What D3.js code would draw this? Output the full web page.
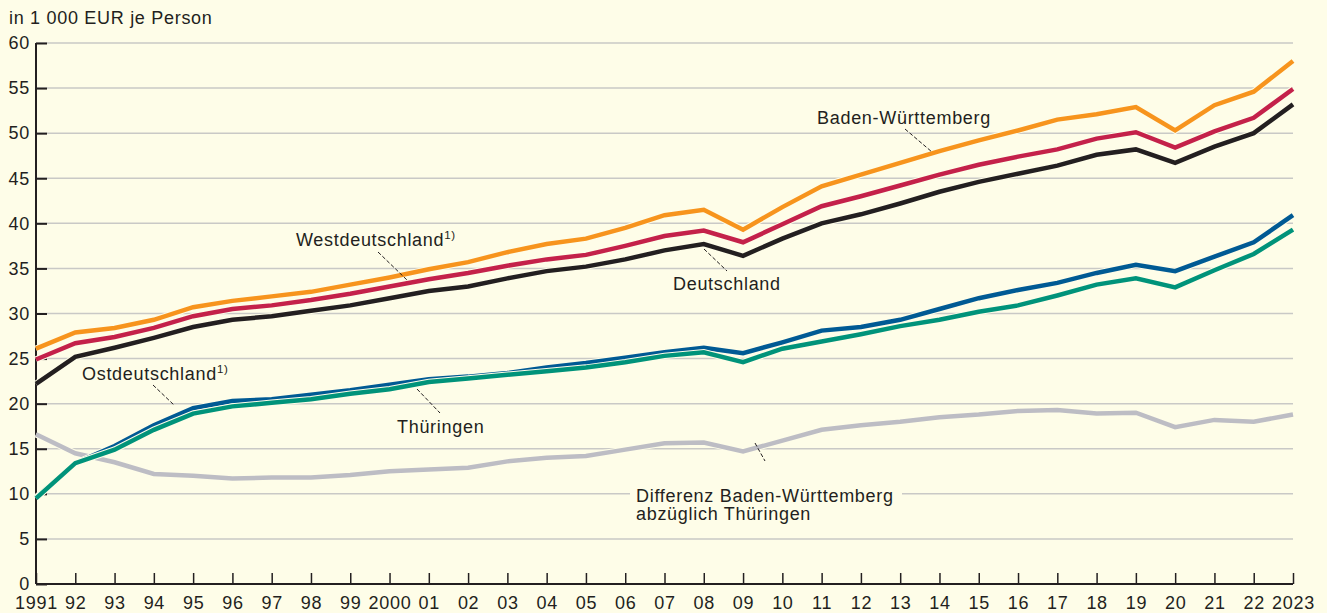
<!DOCTYPE html>
<html>
<head>
<meta charset="utf-8">
<script src="https://cdn.jsdelivr.net/npm/d3@7"></script>
<style>
  body { margin: 0; background: #fefde8; }
  svg { display: block; font-family: "Liberation Sans", Arial, sans-serif; }
  svg text { letter-spacing: 0.7px; }
</style>
</head>
<body>
<svg width="1327" height="613"></svg>
<script>
// Arbeitnehmerentgelt je Person, in 1 000 EUR

var years = d3.range(1991, 2024);
var yearLabels = ["1991","92","93","94","95","96","97","98","99","2000","01","02","03","04","05","06","07","08","09","10","11","12","13","14","15","16","17","18","19","20","21","22","2023"];
var yTicks = [0, 5, 10, 15, 20, 25, 30, 35, 40, 45, 50, 55, 60];

var badenWuerttemberg = [26.1,27.9,28.4,29.3,30.7,31.4,31.9,32.4,33.2,34.0,34.9,35.7,36.8,37.7,38.3,39.5,40.9,41.5,39.3,41.8,44.1,45.4,46.7,48.0,49.2,50.3,51.5,52.1,52.9,50.3,53.1,54.6,58.0];
var westdeutschland   = [24.9,26.7,27.4,28.4,29.7,30.5,30.9,31.5,32.2,33.0,33.8,34.5,35.3,36.0,36.5,37.5,38.6,39.2,37.9,39.9,41.9,43.0,44.2,45.4,46.5,47.4,48.2,49.4,50.1,48.4,50.2,51.7,54.9];
var deutschland       = [22.2,25.2,26.2,27.3,28.5,29.3,29.7,30.3,30.9,31.7,32.5,33.0,33.9,34.7,35.2,36.0,37.0,37.7,36.4,38.3,40.0,41.0,42.2,43.5,44.6,45.5,46.4,47.6,48.2,46.7,48.5,50.0,53.2];
var ostdeutschland    = [9.6,13.4,15.3,17.6,19.5,20.3,20.5,21.0,21.5,22.1,22.7,23.0,23.4,24.0,24.5,25.1,25.7,26.2,25.6,26.8,28.1,28.5,29.3,30.5,31.7,32.6,33.4,34.5,35.4,34.7,36.3,37.9,40.9];
var thueringen        = [9.5,13.4,14.9,17.1,18.9,19.7,20.1,20.5,21.1,21.6,22.4,22.8,23.2,23.6,24.0,24.6,25.3,25.7,24.6,26.1,26.9,27.7,28.6,29.3,30.2,30.9,32.0,33.2,33.9,32.9,34.8,36.6,39.3];
var differenz         = [16.6,14.5,13.5,12.2,12.0,11.7,11.8,11.8,12.1,12.5,12.7,12.9,13.6,14.0,14.2,14.9,15.6,15.7,14.7,15.9,17.1,17.6,18.0,18.5,18.8,19.2,19.3,18.9,19.0,17.4,18.2,18.0,18.8];

var svg = d3.select("svg"),
    margin = {top: 43, right: 34, bottom: 29, left: 36},
    width = +svg.attr("width") - margin.left - margin.right,
    height = +svg.attr("height") - margin.top - margin.bottom,
    g = svg.append("g").attr("transform", "translate(" + margin.left + "," + margin.top + ")");

var bg = "#fefde8",
    ink = "#231f20",
    fs = 18;

var x = d3.scaleLinear()
    .domain([1991, 2023])
    .range([0, width]);

var y = d3.scaleLinear()
    .domain([0, 60])
    .range([height, 0]);

// unit label
svg.append("text")
    .attr("x", 9)
    .attr("y", 24)
    .attr("font-size", fs)
    .attr("fill", ink)
    .text("in 1 000 EUR je Person");

// gridlines
g.append("g")
  .selectAll("line")
  .data(yTicks.filter(function(d) { return d > 0; }))
  .enter().append("line")
    .attr("x1", 0)
    .attr("x2", width)
    .attr("y1", function(d) { return y(d); })
    .attr("y2", function(d) { return y(d); })
    .attr("stroke", "#c9c9c6")
    .attr("stroke-width", 1.5);

// y axis
var yAxis = g.append("g")
    .call(d3.axisLeft(y).tickValues(yTicks).tickSize(-11));
yAxis.select(".domain").attr("stroke", ink).attr("stroke-width", 2).attr("d", "M0," + height + "V0");
yAxis.selectAll(".tick line").attr("stroke", ink).attr("stroke-width", 2);
yAxis.selectAll(".tick text")
    .attr("font-size", fs)
    .attr("fill", ink)
    .attr("font-family", "Liberation Sans, Arial, sans-serif")
    .attr("x", -6);

// x axis
var xAxis = g.append("g")
    .attr("transform", "translate(0," + height + ")")
    .call(d3.axisBottom(x).tickValues(years).tickSize(-11)
      .tickFormat(function(d, i) { return yearLabels[i]; }));
xAxis.select(".domain").attr("stroke", ink).attr("stroke-width", 2).attr("d", "M0,0H" + width);
xAxis.selectAll(".tick line").attr("stroke", ink).attr("stroke-width", 1.5);
xAxis.selectAll(".tick text")
    .attr("font-size", fs)
    .attr("fill", ink)
    .attr("font-family", "Liberation Sans, Arial, sans-serif")
    .attr("y", 25)
    .attr("dy", 0);

var line = d3.line()
    .x(function(d, i) { return x(years[i]); })
    .y(function(d) { return y(d); });

var series = [
  {values: differenz, color: "#bdbdc4"},
  {values: ostdeutschland, color: "#005a94"},
  {values: thueringen, color: "#00937a"},
  {values: deutschland, color: ink},
  {values: westdeutschland, color: "#c4214a"},
  {values: badenWuerttemberg, color: "#f7941d"}
];

series.forEach(function(s) {
  g.append("path")
      .datum(s.values)
      .attr("fill", "none")
      .attr("stroke", bg)
      .attr("stroke-width", 6.5)
      .attr("d", line);
  g.append("path")
      .datum(s.values)
      .attr("fill", "none")
      .attr("stroke", s.color)
      .attr("stroke-width", 4.5)
      .attr("d", line);
});

// labels with leader lines (positions in page coordinates)
var labels = [
  {text: "Baden-Württemberg", sup: "", x: 817, y: 124, lx1: 905, ly1: 129, lx2: 932, ly2: 152},
  {text: "Westdeutschland", sup: "1)", x: 296, y: 246, lx1: 378, ly1: 252, lx2: 407, ly2: 280},
  {text: "Deutschland", sup: "", x: 673, y: 290, lx1: 704, ly1: 249, lx2: 727, ly2: 271},
  {text: "Ostdeutschland", sup: "1)", x: 82, y: 380, lx1: 153, ly1: 385, lx2: 174, ly2: 405},
  {text: "Thüringen", sup: "", x: 397, y: 433, lx1: 417, ly1: 389, lx2: 440, ly2: 413}
];

var lab = svg.append("g");
labels.forEach(function(d) {
  lab.append("line")
      .attr("x1", d.lx1).attr("y1", d.ly1)
      .attr("x2", d.lx2).attr("y2", d.ly2)
      .attr("stroke", ink)
      .attr("stroke-width", 1)
      .attr("stroke-dasharray", "4,2");
  var t = lab.append("text")
      .attr("x", d.x)
      .attr("y", d.y)
      .attr("font-size", fs)
      .attr("fill", ink)
      .text(d.text);
  if (d.sup) {
    t.append("tspan")
        .attr("font-size", 11.5)
        .attr("dy", -7)
        .text(d.sup);
  }
});

// Differenz label with background box covering gridline
lab.append("line")
    .attr("x1", 755).attr("y1", 443)
    .attr("x2", 765).attr("y2", 461)
    .attr("stroke", ink)
    .attr("stroke-width", 1)
    .attr("stroke-dasharray", "4,2");
lab.append("rect")
    .attr("x", 630).attr("y", 486)
    .attr("width", 272).attr("height", 38)
    .attr("fill", bg);
lab.append("text")
    .attr("x", 636).attr("y", 502)
    .attr("font-size", fs)
    .attr("fill", ink)
    .text("Differenz Baden-Württemberg");
lab.append("text")
    .attr("x", 636).attr("y", 520)
    .attr("font-size", fs)
    .attr("fill", ink)
    .text("abzüglich Thüringen");
</script>
</body>
</html>
